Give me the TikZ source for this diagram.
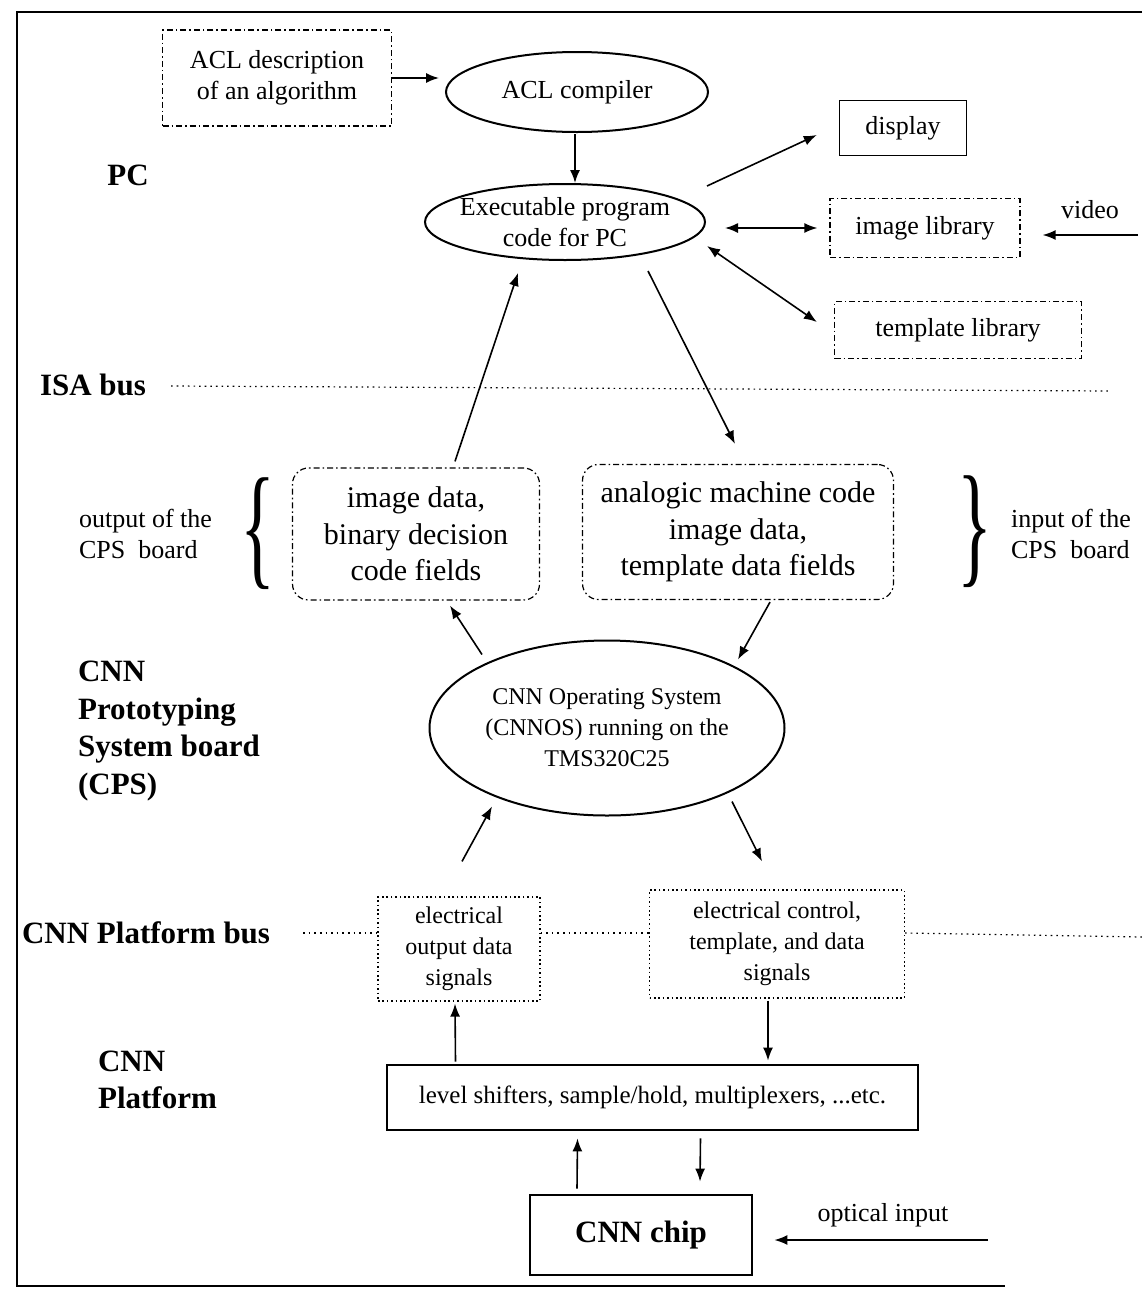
\documentclass[tikz,border=0pt]{standalone}
\usepackage{fontspec}
\setmainfont{Liberation Serif}
\usetikzlibrary{arrows.meta,shapes.geometric,positioning}

\begin{document}
\begin{tikzpicture}[x=0.5pt, y=-0.5pt,
	every node/.style={font=\fontsize{13}{15.5}\selectfont, align=center},
	lbl/.style={font=\bfseries\fontsize{15.5}{18.8}\selectfont, align=left},
	oval/.style={draw, ellipse, line width=1pt, inner sep=0pt},
	dashdot/.style={draw, line width=0.6pt, dash pattern=on 3pt off 1.5pt on 0.8pt off 1.5pt},
	field/.style={dashdot, rounded corners=8pt, font=\fontsize{15}{18.3}\selectfont},
	sig/.style={draw, line width=0.6pt, dash pattern=on 0.8pt off 1.4pt},
	arr/.style={-{Latex[length=6.5pt,width=5pt]}, line width=0.8pt},
	dbl/.style={{Latex[length=6.5pt,width=5pt]}-{Latex[length=6.5pt,width=5pt]}, line width=0.8pt},
	bus/.style={line width=0.6pt, dash pattern=on 0.8pt off 2pt}]

	\useasboundingbox (0,0) rectangle (1142,1296);
	\draw[line width=0.9pt] (1142,12) -- (17,12) -- (17,1286) -- (1005,1286);

	% PC
	\node[lbl] (pc) at (128,175) {PC};
	\node[dashdot, minimum width=114.5pt, minimum height=48pt] (acldesc) at (277,78) {ACL description\\of an algorithm};
	\node[oval, minimum width=131pt, minimum height=40pt] (aclcomp) at (577,92) {ACL compiler};
	\node[oval, minimum width=140pt, minimum height=38pt, inner sep=-4pt] (exec) at (565,222) {Executable program\\code for PC};
	\node[draw, line width=0.7pt, minimum width=63.5pt, minimum height=27.5pt] (disp) at (903,128) {display};
	\node[dashdot, minimum width=95pt, minimum height=29.5pt] (imglib) at (925,228) {image library};
	\node[dashdot, minimum width=123.5pt, minimum height=28.5pt] (tpllib) at (958,330) {template library};
	\node (video) at (1090,210) {video};
	\coordinate (videoin) at (1138,235);

	\draw[arr] (acldesc.east) -- ([shift={(-6,-14)}]aclcomp.west);
	\draw[arr] ([shift={(-2,1)}]aclcomp.south) -- ([shift={(10,0)}]exec.north);
	\draw[arr] ([shift={(1,-36)}]exec.east) -- ([shift={(-22,7)}]disp.west);
	\draw[dbl] ([shift={(19,6)}]exec.east) -- ([shift={(-12,0)}]imglib.west);
	\draw[dbl] ([shift={(1,24)}]exec.east) -- ([shift={(-17,-8)}]tpllib.west);
	\draw[arr] (videoin) -- ([shift={(22,7)}]imglib.east);

	% ISA bus
	\node[lbl, anchor=west] (isa) at (33,385) {ISA bus};
	\coordinate (isaend) at (1110,391);
	\draw[bus] ([shift={(18,1)}]isa.east) -- (isaend);

	% data fields
	\node[field, minimum width=123.5pt, minimum height=66pt] (outdata) at (416,534) {image data,\\binary decision\\code fields};
	\node[field, minimum width=155.5pt, minimum height=67.5pt] (indata) at (738,532) {analogic machine code\\image data,\\template data fields};
	\node (lbrace) at (258,534) {\scalebox{2.8}[5.2]{\{}};
	\node (rbrace) at (975,532) {\scalebox{2.8}[5.2]{\}}};
	\node[anchor=west, align=left] (outlbl) at (72,534) {output of the\\CPS\ \ board};
	\node[anchor=west, align=left] (inlbl) at (1004,534) {input of the\\CPS\ \ board};

	\draw[arr] ([shift={(39,-6)}]outdata.north) -- ([shift={(-47,12)}]exec.south);
	\draw[arr] ([shift={(83,10)}]exec.south) -- ([shift={(-3,-20)}]indata.north);

	% CPS
	\node[lbl, anchor=west] (cps) at (71,731) {CNN\\Prototyping\\System board\\(CPS)};
	\node[oval, minimum width=177.5pt, minimum height=87.5pt, inner xsep=-8pt, font=\fontsize{12}{15.5}\selectfont] (cnnos) at (607,728) {CNN Operating System\\(CNNOS) running on the\\TMS320C25};

	\draw[arr] ([shift={(32,2)}]indata.south) -- ([shift={(131,20)}]cnnos.north);
	\draw[arr] ([shift={(-125,15)}]cnnos.north) -- ([shift={(34,5)}]outdata.south);

	% CNN Platform bus
	\node[lbl, anchor=west] (platbus) at (15,933) {CNN Platform bus};
	\node[sig, minimum width=81pt, minimum height=52pt, font=\fontsize{12}{15.5}\selectfont] (elout) at (459,949) {electrical\\output data\\signals};
	\node[sig, minimum width=127.5pt, minimum height=54pt, font=\fontsize{12}{15.5}\selectfont] (elctrl) at (777,944) {electrical control,\\template, and data\\signals};
	\coordinate (busend) at (1142,937);
	\draw[bus] ([xshift=13pt]platbus.east) -- (platbus.east -| elout.west);
	\draw[bus] (platbus.east -| elout.east) -- (platbus.east -| elctrl.west);
	\draw[bus] (platbus.east -| elctrl.east) -- (busend);

	\draw[arr] ([shift={(3,-35)}]elout.north) -- ([shift={(-115,-10)}]cnnos.south);
	\draw[arr] ([shift={(125,-15)}]cnnos.south) -- ([shift={(-15,-28)}]elctrl.north);

	% CNN Platform
	\node[lbl, anchor=west] (plat) at (91,1080) {CNN\\Platform};
	\node[draw, line width=1.4pt, minimum width=265.5pt, minimum height=32.5pt, font=\fontsize{12.5}{15}\selectfont] (level) at (652.5,1097.5) {level shifters, sample/hold, multiplexers, ...etc.};
	\node[draw, line width=1.4pt, minimum width=111pt, minimum height=40pt, font=\bfseries\fontsize{15.5}{18}\selectfont] (chip) at (641,1235) {CNN chip};
	\node (optical) at (883,1215) {optical input};
	\coordinate (opticalin) at (988,1240);

	\draw[arr] ([shift={(-197,-2)}]level.north) -- ([shift={(-4,2)}]elout.south);
	\draw[arr] ([shift={(-9,2)}]elctrl.south) -- ([shift={(115.5,-3)}]level.north);
	\draw[arr] ([shift={(-64,-5)}]chip.north) -- ([shift={(-75,7)}]level.south);
	\draw[arr] ([shift={(48,7)}]level.south) -- ([shift={(59,-12)}]chip.north);
	\draw[arr] (opticalin) -- ([shift={(21,5)}]chip.east);
\end{tikzpicture}
\end{document}
